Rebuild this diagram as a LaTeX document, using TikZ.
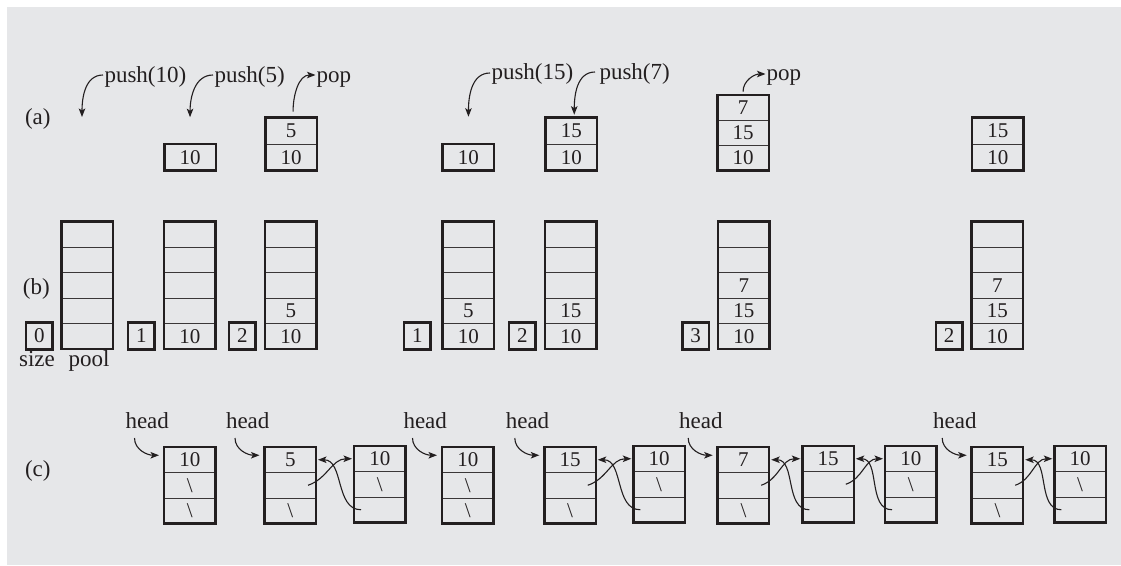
\documentclass[tikz,border=0pt]{standalone}
\usepackage{fontspec}
\setmainfont{Liberation Serif}
\usetikzlibrary{arrows.meta}
\definecolor{bg}{HTML}{E6E7E9}
\definecolor{ink}{HTML}{231F20}
\definecolor{divc}{HTML}{3A3738}
\newcommand\lbfont{\fontsize{23}{27}\selectfont}
\newcommand\nmfont{\fontsize{21}{25}\selectfont}
\newcommand\bsl{\textbackslash}
\tikzset{
  cell/.style={draw=divc, line width=0.9pt, minimum width=51.5pt, minimum height=#1,
    inner sep=0pt, outer sep=0pt, font=\nmfont, text=ink},
  frame/.style={draw=ink, line width=2.5pt},
  sizebox/.style={draw=ink, line width=2.5pt, minimum width=26.5pt, minimum height=27pt,
    inner sep=0pt, outer sep=0pt, font=\nmfont, text=ink},
  lbl/.style={anchor=base west, inner sep=0pt, outer sep=0pt, font=\lbfont, text=ink},
  clbl/.style={anchor=base, inner sep=0pt, outer sep=0pt, font=\lbfont, text=ink},
  arr/.style={draw=ink, line width=1.1pt, -{Stealth[length=8.5pt,width=6.5pt,inset=2pt]}},
}
% name, x-left, y-top (px), cell height, number of cells, contents (top to bottom)
\newcommand\mkbox[6]{%
  \foreach \t [count=\i] in {#6} {
    \node[cell=#4pt] (#1-\i) at ({#2+25.75}, {-#3-(\i-0.5)*#4}) {\t};
  }
  \draw[frame] (#1-1.north west) rectangle (#1-#5.south east);
}
\newcommand\dlink[2]{%
  \draw[arr] ([xshift=-8pt]#1-2.east) to[out=18,in=180] ([xshift=-2pt]#2-1.west);
  \draw[arr] ([xshift=7pt]#2-3.west) to[out=180,in=0] ([xshift=2pt]#1-1.east);
}
\begin{document}
\begin{tikzpicture}[x=1pt,y=1pt]
\useasboundingbox (0,0) rectangle (1121,-565);
\fill[bg] (7,-7) rectangle (1121,-565);

% ---------- row (a) ----------
\node[lbl] (la) at (25,-124) {(a)};
\mkbox{a1}{164.3}{144.2}{26.5}{1}{10}
\mkbox{a2}{265.3}{117.7}{26.5}{2}{5,10}
\mkbox{a3}{442.7}{144.2}{26.5}{1}{10}
\mkbox{a4}{545.5}{117.7}{26.5}{2}{15,10}
\mkbox{a5}{717.3}{95}{25.2}{3}{7,15,10}
\mkbox{a6}{972}{117.7}{26.5}{2}{15,10}

\node[lbl] (p1) at (104.5,-82) {push(10)};
\coordinate (e0) at (82,-117);
\draw[arr] ([xshift=-1.5pt,yshift=7pt]p1.base west) to[out=180,in=90] (e0);
\node[lbl] (p2) at (214.5,-82) {push(5)};
\draw[arr] ([xshift=-1.5pt,yshift=7pt]p2.base west) to[out=180,in=90] ([yshift=27pt]a1-1.north);
\node[lbl] (q1) at (316.5,-82) {pop};
\draw[arr] ([xshift=2pt,yshift=6pt]a2-1.north) to[out=90,in=180] ([xshift=-1pt,yshift=7pt]q1.base west);
\node[lbl] (p3) at (491.5,-79) {push(15)};
\draw[arr] ([xshift=-1.5pt,yshift=6pt]p3.base west) to[out=180,in=90] ([yshift=27.5pt]a3-1.north);
\node[lbl] (p4) at (599.5,-79) {push(7)};
\draw[arr] ([xshift=-4.5pt,yshift=7pt]p4.base west) to[out=180,in=90] ([xshift=3pt,yshift=3pt]a4-1.north);
\node[lbl] (q2) at (766.5,-80) {pop};
\draw[arr] ([yshift=3.3pt]a5-1.north) to[out=90,in=180] ([xshift=-1pt,yshift=6pt]q2.base west);

% ---------- row (b) ----------
\node[lbl] (lb) at (23,-294) {(b)};
\mkbox{b1}{61.7}{221.7}{25.5}{5}{{},{},{},{},{}}
\mkbox{b2}{164}{221.7}{25.5}{5}{{},{},{},{},10}
\mkbox{b3}{265}{221.7}{25.5}{5}{{},{},{},5,10}
\mkbox{b4}{442.7}{221.7}{25.5}{5}{{},{},{},5,10}
\mkbox{b5}{545}{221.7}{25.5}{5}{{},{},{},15,10}
\mkbox{b6}{718}{221.7}{25.5}{5}{{},{},7,15,10}
\mkbox{b7}{971.7}{221.7}{25.5}{5}{{},{},7,15,10}
\node[sizebox] (s1) at (39.25,-336) {0};
\node[sizebox] (s2) at (141.25,-336) {1};
\node[sizebox] (s3) at (242.25,-336) {2};
\node[sizebox] (s4) at (417.25,-336) {1};
\node[sizebox] (s5) at (522.25,-336) {2};
\node[sizebox] (s6) at (695.5,-336) {3};
\node[sizebox] (s7) at (949,-336) {2};
\node[clbl] (lsize) at (37,-366) {size};
\node[clbl] (lpool) at (89,-366) {pool};

% ---------- row (c) ----------
\node[lbl] (lc) at (25,-476) {(c)};
\mkbox{c1}{164}{447}{25.5}{3}{10,\bsl,\bsl}
\mkbox{c2}{264.5}{447}{25.5}{3}{5,{},\bsl}
\mkbox{c3}{354}{446}{25.5}{3}{10,\bsl,{}}
\mkbox{c4}{442}{447}{25.5}{3}{10,\bsl,\bsl}
\mkbox{c5}{544.3}{447}{25.5}{3}{15,{},\bsl}
\mkbox{c6}{633.3}{446}{25.5}{3}{10,\bsl,{}}
\mkbox{c7}{717.7}{447}{25.5}{3}{7,{},\bsl}
\mkbox{c8}{802.3}{446}{25.5}{3}{15,{},{}}
\mkbox{c9}{885}{446}{25.5}{3}{10,\bsl,{}}
\mkbox{c10}{971.7}{447}{25.5}{3}{15,{},\bsl}
\mkbox{c11}{1054.3}{446}{25.5}{3}{10,\bsl,{}}

\dlink{c2}{c3}
\dlink{c5}{c6}
\dlink{c7}{c8}
\dlink{c8}{c9}
\dlink{c10}{c11}

\node[lbl] (hd1) at (125.5,-428) {head};
\node[lbl] (hd2) at (226,-428) {head};
\node[lbl] (hd3) at (403.5,-428) {head};
\node[lbl] (hd4) at (505.8,-428) {head};
\node[lbl] (hd5) at (679.2,-428) {head};
\node[lbl] (hd6) at (933.2,-428) {head};
\foreach \h/\b in {hd1/c1,hd2/c2,hd3/c4,hd4/c5,hd5/c7,hd6/c10}{
  \draw[arr] ([xshift=9pt,yshift=-10pt]\h.base west) to[out=-90,in=180] ([xshift=-5pt,yshift=4.5pt]\b-1.west);
}
\end{tikzpicture}
\end{document}
